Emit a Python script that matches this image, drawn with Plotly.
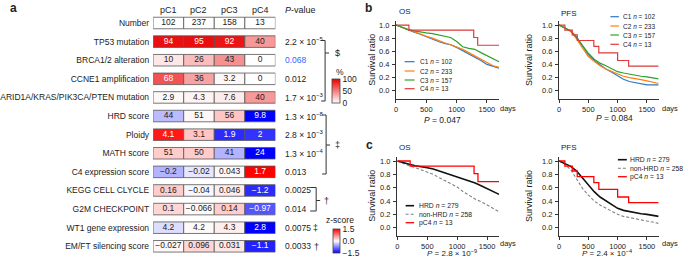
import plotly.graph_objects as go

W, H = 683, 262
def px(x): return x / W
def py(y): return 1 - y / H

FONT = "Liberation Sans, Arial, Helvetica, sans-serif"
BORDER = "#555555"
TXT = "#222222"

# ---------------- panel a data ----------------
clusters = ["pC1", "pC2", "pC3", "pC4"]
row_labels = ["Number", "TP53 mutation", "BRCA1/2 alteration", "CCNE1 amplification",
              "ARID1A/KRAS/PIK3CA/PTEN mutation", "HRD score", "Ploidy", "MATH score",
              "C4 expression score", "KEGG CELL CLYCLE", "G2M CHECKPOINT",
              "WT1 gene expression", "EM/FT silencing score"]
number_vals = [102, 237, 158, 13]
tp53 = [94, 95, 92, 40]
brca = [10, 26, 43, 0]
ccne1 = [68, 36, 3.2, 0]
arid = [2.9, 4.3, 7.6, 40]
cell_text = [
    ["102", "237", "158", "13"],
    ["94", "95", "92", "40"],
    ["10", "26", "43", "0"],
    ["68", "36", "3.2", "0"],
    ["2.9", "4.3", "7.6", "40"],
    ["44", "51", "56", "9.8"],
    ["4.1", "3.1", "1.9", "2"],
    ["51", "50", "41", "24"],
    ["−0.2", "−0.02", "0.043", "1.7"],
    ["0.16", "−0.04", "0.046", "−1.2"],
    ["0.1", "−0.066", "0.14", "−0.97"],
    ["4.2", "4.2", "4.3", "2.8"],
    ["−0.027", "0.096", "0.031", "−1.1"],
]
# z-scores (colour) of the continuous features
z_hrd = [-0.4, 0.05, 0.35, -1.5]
z_ploidy = [1.35, 0.35, -1.25, -1.2]
z_math = [0.3, 0.3, -0.45, -1.5]
z_c4 = [-0.45, -0.15, 0.05, 1.5]
z_kegg = [0.3, -0.05, 0.12, -1.25]
z_g2m = [0.25, 0.03, 0.3, -1.0]
z_wt1 = [-0.2, 0.03, 0.1, -1.5]
z_emft = [0.05, 0.25, 0.15, -1.3]
p_values = ["2.2 × 10<sup>−5</sup>", "0.068", "0.012", "1.7 × 10<sup>−3</sup>",
            "1.3 × 10<sup>−8</sup>", "2.8 × 10<sup>−3</sup>", "1.3 × 10<sup>−4</sup>", "0.013",
            "0.0025", "0.014", "0.0075", "0.0033"]
p_colors = [TXT, "#3366ff"] + [TXT] * 10

pct_rows = [tp53, brca, ccne1, arid]
z_rows = [z_hrd, z_ploidy, z_math, z_c4, z_kegg, z_g2m, z_wt1, z_emft]

# ---------------- survival data ----------------
days = [0, 100, 200, 300, 400, 500, 600, 700, 800, 900, 1000, 1100, 1200, 1300, 1400, 1500, 1600, 1700]
os_c1 = [1.0, 0.96, 0.93, 0.89, 0.86, 0.82, 0.78, 0.75, 0.72, 0.70, 0.66, 0.61, 0.56, 0.52, 0.46, 0.40, 0.37, 0.345]
os_c2 = [1.0, 0.96, 0.93, 0.90, 0.86, 0.83, 0.80, 0.76, 0.73, 0.70, 0.67, 0.63, 0.58, 0.53, 0.48, 0.42, 0.38, 0.355]
os_c3 = [1.0, 0.96, 0.93, 0.91, 0.89, 0.88, 0.87, 0.85, 0.83, 0.81, 0.75, 0.67, 0.645, 0.63, 0.58, 0.53, 0.49, 0.44]
os_c4_days = [0, 213, 1282, 1347, 1700]
os_c4 = [1.0, 0.923, 0.81, 0.692, 0.692]
pfs_c1 = [1.0, 0.96, 0.91, 0.82, 0.68, 0.55, 0.46, 0.39, 0.33, 0.28, 0.225, 0.175, 0.14, 0.125, 0.10, 0.09, 0.09, 0.09]
pfs_c2 = [1.0, 0.96, 0.90, 0.79, 0.65, 0.52, 0.45, 0.38, 0.33, 0.29, 0.25, 0.22, 0.20, 0.19, 0.17, 0.15, 0.13, 0.11]
pfs_c3 = [1.0, 0.96, 0.91, 0.81, 0.68, 0.57, 0.48, 0.42, 0.38, 0.33, 0.29, 0.27, 0.25, 0.23, 0.22, 0.21, 0.20, 0.18]
pfs_c4_days = [0, 100, 226, 311, 594, 679, 1000, 1188, 1700]
pfs_c4 = [1.0, 0.923, 0.85, 0.765, 0.675, 0.575, 0.46, 0.375, 0.375]
os_hrd = [1.0, 0.97, 0.95, 0.93, 0.92, 0.90, 0.88, 0.85, 0.82, 0.79, 0.765, 0.73, 0.70, 0.67, 0.63, 0.59, 0.54, 0.50]
os_nonhrd = [1.0, 0.96, 0.93, 0.90, 0.87, 0.84, 0.80, 0.75, 0.70, 0.66, 0.61, 0.54, 0.48, 0.43, 0.39, 0.34, 0.29, 0.24]
pfs_hrd = [1.0, 0.96, 0.92, 0.85, 0.75, 0.64, 0.54, 0.46, 0.40, 0.34, 0.29, 0.26, 0.24, 0.22, 0.21, 0.20, 0.19, 0.17]
pfs_nonhrd = [1.0, 0.95, 0.87, 0.73, 0.59, 0.49, 0.40, 0.34, 0.29, 0.25, 0.20, 0.17, 0.15, 0.13, 0.12, 0.10, 0.085, 0.065]
surv_ticks = [0, 0.2, 0.4, 0.6, 0.8, 1.0]
surv_ticktext = ["0.0", "0.2", "0.4", "0.6", "0.8", "1.0"]
day_ticks = [0, 500, 1000, 1500]

b_names = ["C1", "C2", "C3", "C4"]
b_n = [102, 233, 157, 13]
b_colors = ["#2f78c4", "#ff7f0e", "#2ca02c", "#e03a3a"]
c_names = ["HRD", "non-HRD", "pC4"]
c_n = [279, 258, 13]
c_colors = ["#111111", "#808080", "#ff0000"]
DASH = "3px,2px"

fig = go.Figure()

# ---------------- panel a: cells as horizontal bars ----------------
BW = 0.62
fig.add_trace(go.Bar(orientation="h", y=[0] * 4, x=[1] * 4, base=[c - 0.5 for c in range(4)],
                     width=BW, marker=dict(color="white", line=dict(color=BORDER, width=0.8)),
                     xaxis="x", yaxis="y", hoverinfo="skip", showlegend=False))

py_, pb_, pv_ = [], [], []
for r, vals in enumerate(pct_rows, start=1):
    for c, v in enumerate(vals):
        py_.append(r); pb_.append(c - 0.5); pv_.append(v)
fig.add_trace(go.Bar(orientation="h", y=py_, x=[1] * len(py_), base=pb_, width=BW,
                     marker=dict(color=pv_, colorscale=[[0, "#ffffff"], [1, "#ea0000"]], cmin=0, cmax=100,
                                 line=dict(color=BORDER, width=0.8), showscale=True,
                                 colorbar=dict(x=px(330), xanchor="left", y=py(91), yanchor="middle",
                                               len=24, lenmode="pixels", thickness=8, thicknessmode="pixels",
                                               tickvals=[0, 50, 100], ticktext=["0", "50", "100"], ticks="",
                                               tickfont=dict(size=8.5, color=TXT, family=FONT),
                                               outlinewidth=0.8, outlinecolor="#444", xpad=0, ypad=0)),
                     xaxis="x", yaxis="y", hoverinfo="skip", showlegend=False))

zy_, zb_, zv_ = [], [], []
for r, vals in enumerate(z_rows, start=5):
    for c, v in enumerate(vals):
        zy_.append(r); zb_.append(c - 0.5); zv_.append(v)
fig.add_trace(go.Bar(orientation="h", y=zy_, x=[1] * len(zy_), base=zb_, width=BW,
                     marker=dict(color=zv_, colorscale=[[0, "#0000ff"], [0.5, "#ffffff"], [1, "#ff0000"]],
                                 cmin=-1.5, cmax=1.5, line=dict(color=BORDER, width=0.8), showscale=True,
                                 colorbar=dict(x=px(331), xanchor="left", y=py(241), yanchor="middle",
                                               len=24, lenmode="pixels", thickness=7, thicknessmode="pixels",
                                               tickvals=[-1.5, 0, 1.5], ticktext=["−1.5", "0.0", "1.5"], ticks="",
                                               tickfont=dict(size=8.5, color=TXT, family=FONT),
                                               outlinewidth=0.8, outlinecolor="#444", xpad=0, ypad=0)),
                     xaxis="x", yaxis="y", hoverinfo="skip", showlegend=False))

# cell text
tx, ty, tt, tc = [], [], [], []
for r, row in enumerate(cell_text):
    for c, s in enumerate(row):
        tx.append(c); ty.append(r); tt.append(s)
        white = False
        if 1 <= r <= 4 and pct_rows[r - 1][c] >= 60:
            white = True
        if r >= 5 and abs(z_rows[r - 5][c]) >= 0.9:
            white = True
        tc.append("white" if white else TXT)
fig.add_trace(go.Scatter(x=tx, y=ty, text=tt, mode="text", textfont=dict(size=8.5, color=tc, family=FONT),
                         xaxis="x", yaxis="y", hoverinfo="skip", showlegend=False, cliponaxis=False))

# ---------------- survival curves ----------------
def add_curve(xs, ys, color, ax, dash="solid", width=1.2, shape="linear"):
    fig.add_trace(go.Scatter(x=xs, y=ys, mode="lines", line=dict(color=color, width=width, dash=dash, shape=shape),
                             xaxis="x" + ax, yaxis="y" + ax, hoverinfo="skip", showlegend=False))

add_curve(days, os_c1, b_colors[0], "2")
add_curve(days, os_c2, b_colors[1], "2")
add_curve(days, os_c3, b_colors[2], "2")
add_curve(os_c4_days, os_c4, b_colors[3], "2", shape="hv")
add_curve(days, pfs_c1, b_colors[0], "3")
add_curve(days, pfs_c2, b_colors[1], "3")
add_curve(days, pfs_c3, b_colors[2], "3")
add_curve(pfs_c4_days, pfs_c4, b_colors[3], "3", shape="hv")
add_curve(days, os_nonhrd, c_colors[1], "4", dash=DASH, width=1.1)
add_curve(days, os_hrd, c_colors[0], "4", width=1.6)
add_curve(os_c4_days, os_c4, c_colors[2], "4", width=1.3, shape="hv")
add_curve(days, pfs_nonhrd, c_colors[1], "5", dash=DASH, width=1.1)
add_curve(days, pfs_hrd, c_colors[0], "5", width=1.6)
add_curve(pfs_c4_days, pfs_c4, c_colors[2], "5", width=1.3, shape="hv")

def xax(x0, x1, anchor):
    return dict(domain=[px(x0), px(x1)], anchor=anchor, range=[0, 1700], tickmode="array", tickvals=day_ticks,
                showline=True, linecolor="#333", linewidth=0.8, ticks="outside", ticklen=3, tickwidth=0.8,
                tickcolor="#333", tickfont=dict(size=7.5, color=TXT, family=FONT), showgrid=False, zeroline=False)

def yax(top, bottom, anchor):
    return dict(domain=[py(bottom), py(top)], anchor=anchor, range=[-0.12, 1.06],
                tickmode="array", tickvals=surv_ticks, ticktext=surv_ticktext, showticklabels=False,
                showline=True, linecolor="#333", linewidth=0.8, ticks="outside", ticklen=3, tickwidth=0.8,
                tickcolor="#333", showgrid=False, zeroline=False)

layout = dict(
    width=W, height=H, margin=dict(l=0, r=0, t=0, b=0), paper_bgcolor="white", plot_bgcolor="white",
    barmode="overlay", showlegend=False, font=dict(family=FONT, color=TXT),
    xaxis=dict(domain=[px(150), px(273)], range=[-0.5, 3.5], visible=False, anchor="y"),
    yaxis=dict(domain=[py(255.6), py(13.7)], range=[12.5, -0.5], anchor="x", tickvals=list(range(13)),
               ticktext=row_labels, ticks="", showline=False, showgrid=False, zeroline=False,
               tickfont=dict(size=8.5, color=TXT, family=FONT), ticklabelstandoff=3),
    xaxis2=xax(394.3, 498, "y2"), yaxis2=yax(21.1, 98.6, "x2"),
    xaxis3=xax(558.3, 658.5, "y3"), yaxis3=yax(21.1, 98.6, "x3"),
    xaxis4=xax(395.7, 498, "y4"), yaxis4=yax(157, 235.7, "x4"),
    xaxis5=xax(558.3, 658.5, "y5"), yaxis5=yax(157, 235.7, "x5"),
)
fig.update_layout(**layout)

ann = []
def A(x, y, text, size=8.5, xanchor="center", color=TXT, bold=False, **kw):
    t = "<b>%s</b>" % text if bold else text
    d = dict(x=px(x), y=py(y), xref="paper", yref="paper", text=t, showarrow=False, xanchor=xanchor,
             yanchor="middle", font=dict(size=size, color=color, family=FONT))
    d.update(kw)
    ann.append(d)

# panel labels
A(4, 8, "a", size=12, xanchor="left", bold=True)
A(361.5, 8, "b", size=12, xanchor="left", bold=True)
A(362.5, 145, "c", size=12, xanchor="left", bold=True)

# headers
for i, c in enumerate(clusters):
    ann.append(dict(x=i, y=py(10), xref="x", yref="paper", text=c, showarrow=False, xanchor="center",
                    yanchor="middle", font=dict(size=9, color=TXT, family=FONT)))
A(281, 10, "<i>P</i>-value", size=9, xanchor="left")
for r, (p, col) in enumerate(zip(p_values, p_colors), start=1):
    ann.append(dict(x=px(281), y=r, xref="paper", yref="y", text=p, showarrow=False, xanchor="left",
                    yanchor="middle", font=dict(size=8.5, color=col, family=FONT)))

# survival y tick labels (placed on each y axis through its own scale)
for yref, axis_x in [("y2", 394.3), ("y3", 558.3), ("y4", 395.7), ("y5", 558.3)]:
    for v, s in zip(surv_ticks, surv_ticktext):
        ann.append(dict(x=px(axis_x - 5), y=v, xref="paper", yref=yref, text=s, showarrow=False,
                        xanchor="right", yanchor="middle", font=dict(size=7.5, color=TXT, family=FONT)))

# bracket symbols
A(331, 53, "$", size=9, xanchor="left")
A(331, 145, "‡", size=9, xanchor="left")
A(319.5, 200.5, "†", size=9, xanchor="left")
A(309, 228, "‡", size=9, xanchor="left")
A(310, 246.5, "†", size=9, xanchor="left")
A(332, 72, "%", size=8.5, xanchor="left")
A(338, 220, "z-score", size=8.5)

# survival axis titles
for (x, y) in [(370, 60), (528, 60), (370, 196), (528, 196)]:
    A(x, y, "Survival ratio", size=9, textangle=-90)

# survival panel titles, P values, days
A(395, 11, "OS", size=8, xanchor="left")
A(558, 14, "PFS", size=8, xanchor="left")
A(395, 147.5, "OS", size=8, xanchor="left")
A(558, 147.5, "PFS", size=8, xanchor="left")
A(441.5, 120, "<i>P</i> = 0.047", size=8.5)
A(614, 118, "<i>P</i> = 0.084", size=8.5)
A(451, 253, "<i>P</i> = 2.8 × 10<sup>−9</sup>", size=8)
A(607, 253, "<i>P</i> = 2.4 × 10<sup>−4</sup>", size=8)
A(496.5, 108, "days", size=7.5, xanchor="left")
A(660, 108, "days", size=7.5, xanchor="left")
A(496.5, 243.5, "days", size=7.5, xanchor="left")
A(660, 243.5, "days", size=7.5, xanchor="left")

shapes = []
def L(x0, y0, x1, y1, color="#333", width=1, dash="solid"):
    shapes.append(dict(type="line", xref="paper", yref="paper", x0=px(x0), y0=py(y0), x1=px(x1), y1=py(y1),
                       line=dict(color=color, width=width, dash=dash)))

# brackets
for (xv, yt, yb, ym, xl) in [(323, 40.5, 101, 53, 319), (324, 115, 174, 145, 320), (314, 187.5, 211, 200.5, 308)]:
    L(xv, yt, xv, yb)
    L(xl, yt, xv, yt)
    L(xl, yb, xv, yb)
    L(xv, ym, xv + 4, ym)

# manual legends
def legend(names, ns, colors, dashes, widths, ys, lx0, lx1, tx, size):
    for nm, n, col, ds, w, y in zip(names, ns, colors, dashes, widths, ys):
        L(lx0, y, lx1, y, color=col, width=w, dash=ds)
        A(tx, y, "%s <i>n</i> = %d" % (nm, n), size=size, xanchor="left")

legend(b_names, b_n, b_colors, ["solid"] * 4, [1.2] * 4, [61.7, 71, 80, 88.7], 403, 413, 416, 6.5)
legend(b_names, b_n, b_colors, ["solid"] * 4, [1.2] * 4, [16.7, 26, 35, 44.3], 610, 618.5, 621, 6.5)
legend(c_names, c_n, c_colors, ["solid", DASH, "solid"], [1.6, 1.1, 1.3], [205.7, 214.3, 222.7], 404, 412.5, 415, 6.8)
legend(c_names, c_n, c_colors, ["solid", DASH, "solid"], [1.6, 1.1, 1.3], [159.7, 168.3, 176.7], 617.5, 626.5, 628, 6.8)

fig.update_layout(annotations=ann, shapes=shapes)
fig.write_html("out.html", config={"displayModeBar": False},
               post_script="document.body.style.margin='0';document.body.style.padding='0';")
